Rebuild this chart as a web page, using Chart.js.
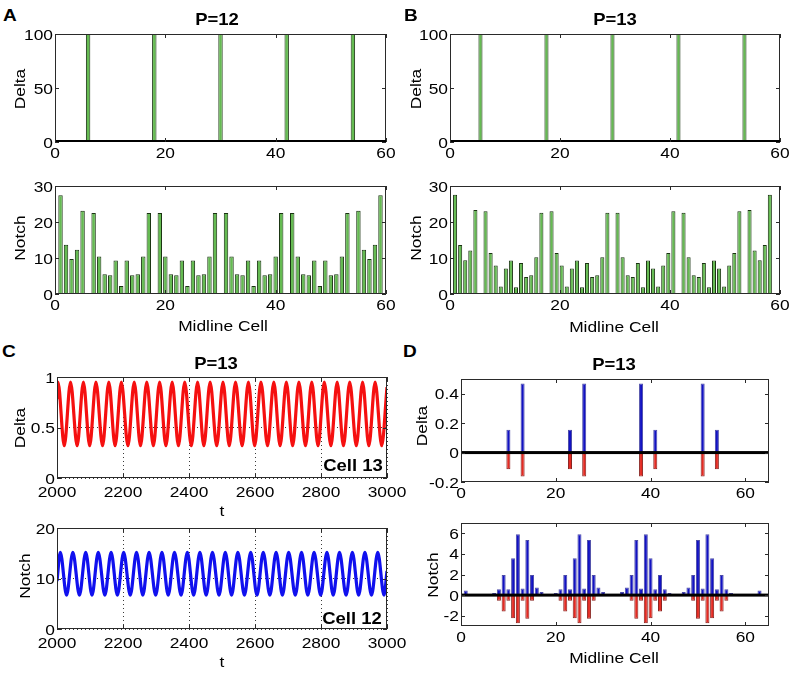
<!DOCTYPE html>
<html><head><meta charset="utf-8">
<script src="https://cdn.jsdelivr.net/npm/chart.js@4.4.1/dist/chart.umd.min.js"></script>
<style>
html,body{margin:0;padding:0;background:#fff;}
#root{position:relative;width:792px;height:673px;overflow:hidden;background:#fff;}
#root canvas{position:absolute;}
.t{position:absolute;font-family:"Liberation Sans",Arial,sans-serif;color:#000;white-space:nowrap;line-height:1;}
</style></head><body><div id="root"></div>
<script>
// ---------------- DATA ----------------
const cellsA = [1,2,3,4,5,6,7,8,9,10,11,12,13,14,15,16,17,18,19,20,21,22,23,24,25,26,27,28,29,30,31,32,33,34,35,36,37,38,39,40,41,42,43,44,45,46,47,48,49,50,51,52,53,54,55,56,57,58,59];
const deltaA = [0,0,0,0,0,100,
  0,0,0,0,0,0,0,0,0,0,0,100,
  0,0,0,0,0,0,0,0,0,0,0,100,
  0,0,0,0,0,0,0,0,0,0,0,100,
  0,0,0,0,0,0,0,0,0,0,0,100,
  0,0,0,0,0];
const notchA = [27.4,13.7,9.7,12.3,23.1,0,
  22.5,10.4,5.5,5.2,9.3,2.2,9.3,5.2,5.5,10.4,22.5,0,
  22.5,10.4,5.5,5.2,9.3,2.2,9.3,5.2,5.5,10.4,22.5,0,
  22.5,10.4,5.5,5.2,9.3,2.2,9.3,5.2,5.5,10.4,22.5,0,
  22.5,10.4,5.5,5.2,9.3,2.2,9.3,5.2,5.5,10.4,22.5,0,
  23.1,12.3,9.7,13.7,27.4];

const cellsB = [1,2,3,4,5,6,7,8,9,10,11,12,13,14,15,16,17,18,19,20,21,22,23,24,25,26,27,28,29,30,31,32,33,34,35,36,37,38,39,40,41,42,43,44,45,46,47,48,49,50,51,52,53,54,55,56,57,58,59,60,61,62,63];
const cellScaleB = 12/13; // 65 cells of period 13 shown on the 0-60 axis
const deltaB = [0,0,0,0,0,100,
  0,0,0,0,0,0,0,0,0,0,0,0,100,
  0,0,0,0,0,0,0,0,0,0,0,0,100,
  0,0,0,0,0,0,0,0,0,0,0,0,100,
  0,0,0,0,0,0,0,0,0,0,0,0,100,
  0,0,0,0,0];
const notchB = [27.6,13.6,9.4,12.1,23.3,0,
  23.0,11.4,7.9,2.1,7.1,9.3,1.9,8.6,4.7,5.2,10.2,22.6,0,
  23.0,11.4,7.9,2.1,7.1,9.3,1.9,8.6,4.7,5.2,10.2,22.6,0,
  22.6,10.2,5.2,4.7,8.6,1.9,9.3,7.1,2.1,7.9,11.4,23.0,0,
  22.6,10.2,5.2,4.7,8.6,1.9,9.3,7.1,2.1,7.9,11.4,23.0,0,
  23.3,12.1,9.4,13.6,27.6];

const tDelta = [2000,2003,2022,2041,2061,2080,2099,2118,2138,2157,2176,2195,2215,2234,2253,2272,2292,2311,2330,2349,2368,2387,2407,2426,2445,2464,2484,2503,2522,2541,2561,2580,2599,2618,2638,2657,2676,2695,2714,2733,2753,2772,2791,2810,2830,2849,2868,2887,2907,2926,2945,2964,2984,3000];
const deltaCell13 = [0.78,
  0.95,0.32,0.95,0.32,0.95,0.32,0.95,0.32,0.95,0.32,0.95,0.32,0.95,0.32,0.95,0.32,0.95,0.32,0.95,0.32,
  0.95,0.32,0.95,0.32,0.95,0.32,0.95,0.32,0.95,0.32,0.95,0.32,0.95,0.32,0.95,0.32,0.95,0.32,0.95,0.32,
  0.95,0.32,0.95,0.32,0.95,0.32,0.95,0.32,0.95,0.32,0.95,0.32,
  0.9];
const tNotch = [2000,2010,2029,2048,2068,2087,2106,2125,2145,2164,2183,2202,2222,2241,2260,2279,2299,2318,2337,2356,2376,2395,2414,2433,2452,2471,2491,2510,2529,2548,2568,2587,2606,2625,2645,2664,2683,2702,2722,2741,2760,2779,2799,2818,2837,2856,2876,2895,2914,2933,2953,2972,2991,3000];
const notchCell12 = [9.5,
  15.2,6.7,15.2,6.7,15.2,6.7,15.2,6.7,15.2,6.7,15.2,6.7,15.2,6.7,15.2,6.7,15.2,6.7,15.2,6.7,
  15.2,6.7,15.2,6.7,15.2,6.7,15.2,6.7,15.2,6.7,15.2,6.7,15.2,6.7,15.2,6.7,15.2,6.7,15.2,6.7,
  15.2,6.7,15.2,6.7,15.2,6.7,15.2,6.7,15.2,6.7,15.2,6.7,
  11.5];

const cellsD = cellsB;
const dDeltaUp = [0,0,0,0,0,0,0,0,0,0.155,
  0,0,0.47,0,0,0,0,0,0,0,
  0,0,0.155,0,0,0.47,0,0,0,0,
  0,0,0,0,0,0,0,0.47,0,0,
  0.155,0,0,0,0,0,0,0,0,0,
  0.47,0,0,0.155,0,0,0,0,0,0,
  0,0,0];
const dDeltaDown = [0,0,0,0,0,0,0,0,0,-0.113,
  0,0,-0.162,0,-0.006,0,0,0,0,0,
  0,0,-0.113,0,0,-0.162,0,-0.006,0,0,
  0,0,0,0,0,-0.006,0,-0.162,0,0,
  -0.113,0,0,0,0,0,0,0,-0.006,0,
  -0.162,0,0,-0.113,0,0,0,0,0,0,
  0,0,0];
const dNotchUp = [0.45,0.1,0,0,0,0,0.2,0.58,1.95,0.58,
  3.57,5.9,0.65,5.35,1.95,0.75,0.3,0,0,0.2,
  0.58,1.95,0.58,3.57,5.9,0.65,5.35,1.95,0.75,0.3,
  0,0,0,0.3,0.75,1.95,5.35,0.65,5.9,3.57,
  0.58,1.95,0.58,0.2,0,0,0.3,0.75,1.95,5.35,
  0.65,5.9,3.57,0.58,1.95,0.58,0.2,0,0,0,
  0,0.1,0.45];
const dNotchDown = [0,0,0,0,0,0,0,-0.55,-1.6,-0.55,
  -2.24,-2.73,-0.55,-2.3,-0.55,0,0,0,0,0,
  -0.55,-1.6,-0.55,-2.24,-2.73,-0.55,-2.3,-0.55,0,0,
  0,0,0,0,0,-0.55,-2.3,-0.55,-2.73,-2.24,
  -0.55,-1.6,-0.55,0,0,0,0,0,-0.55,-2.3,
  -0.55,-2.73,-2.24,-0.55,-1.6,-0.55,0,0,0,0,
  0,0,0];

const ticksCell = [0,20,40,60];
const ticksT = [2000,2200,2400,2600,2800,3000];
const ticksDeltaAB = [0,50,100];
const ticksNotchAB = [0,10,20,30];
const ticksDeltaC = [0,0.5,1];
const ticksNotchC = [0,10,20];
const ticksDeltaD = [-0.2,0,0.2,0.4];
const ticksNotchD = [-2,0,2,4,6];

// ---------------- STYLE / HELPERS ----------------
const SX = 1.12;
const TICK_FONT = '15.5px "Liberation Sans", Arial, sans-serif';
const GREEN = '#65bb52', GREEN_EDGE = '#1a3312';
const root = document.getElementById('root');

function fmt(v){ return String(Math.round(v*1000)/1000); }
function txt(ctx,s,x,y,align){ ctx.save(); ctx.translate(x,y); ctx.scale(SX,1); ctx.textAlign=align; ctx.fillText(s,0,0); ctx.restore(); }

const matlabAxes = {
  id:'matlabAxes',
  afterDatasetsDraw(chart, args, o){
    const ctx = chart.ctx, a = chart.chartArea, xs = chart.scales.x, ys = chart.scales.y;
    ctx.save();
    if (o.zeroLine){
      const y0 = ys.getPixelForValue(0);
      ctx.fillStyle = '#000';
      ctx.fillRect(a.left, y0-1.5, a.right-a.left, 3);
    }
    ctx.strokeStyle = '#2a2a2a'; ctx.lineWidth = 1;
    ctx.strokeRect(Math.round(a.left)+0.5, Math.round(a.top)+0.5, Math.round(a.right-a.left)-1, Math.round(a.bottom-a.top)-1);
    if (o.baseLine){
      ctx.fillStyle = '#000';
      ctx.fillRect(a.left, a.bottom-2, a.right-a.left, 2);
    }
    ctx.beginPath();
    const L = 4;
    xs.ticks.forEach(t=>{ const x=Math.round(xs.getPixelForValue(t.value))+0.5; ctx.moveTo(x,a.bottom); ctx.lineTo(x,a.bottom-L); ctx.moveTo(x,a.top); ctx.lineTo(x,a.top+L); });
    ys.ticks.forEach(t=>{ const y=Math.round(ys.getPixelForValue(t.value))+0.5; ctx.moveTo(a.left,y); ctx.lineTo(a.left+L,y); ctx.moveTo(a.right,y); ctx.lineTo(a.right-L,y); });
    ctx.stroke();
    ctx.fillStyle = '#000'; ctx.font = TICK_FONT; ctx.textBaseline = 'alphabetic';
    xs.ticks.forEach(t=>{ txt(ctx, fmt(t.value), xs.getPixelForValue(t.value), a.bottom + o.xLab, 'center'); });
    ys.ticks.forEach(t=>{ txt(ctx, fmt(t.value), a.left - 2, ys.getPixelForValue(t.value) + 5.5, 'right'); });
    ctx.restore();
  }
};

const PL=60, PT=8, PR=30, PB=26;
function makeChart(box, type, datasets, xs, ys, po){
  const c = document.createElement('canvas');
  const W = (box.r-box.l)+PL+PR, H = (box.b-box.t)+PT+PB;
  c.width = W; c.height = H;
  c.style.left = (box.l-PL)+'px'; c.style.top = (box.t-PT)+'px';
  c.style.width = W+'px'; c.style.height = H+'px';
  root.appendChild(c);
  const axis = (s) => ({
    type:'linear', min:s.min, max:s.max, display:true, offset:false, grace:0,
    ticks:{display:false},
    grid:{display:!!s.grid, drawTicks:false, offset:false, color:'#3a3a3a', lineWidth:1},
    border:{display:false, dash:[1,3]},
    afterBuildTicks: sc => { sc.ticks = s.ticks.map(v=>({value:v})); }
  });
  return new Chart(c, {
    type,
    data:{datasets},
    options:{
      responsive:false, animation:false, devicePixelRatio:1,
      layout:{padding:{left:PL, top:PT, right:PR, bottom:PB}},
      plugins:{legend:{display:false}, tooltip:{enabled:false}, matlabAxes:po},
      scales:{x:axis(xs), y:axis(ys)}
    },
    plugins:[matlabAxes]
  });
}
function pts(xArr, yArr, k){ return xArr.map((x,i)=>({x:x*(k||1), y:yArr[i]})); }
function greenBars(data){ return {data, backgroundColor:GREEN, borderColor:GREEN_EDGE, borderWidth:1, borderSkipped:false, barPercentage:0.8, categoryPercentage:1}; }
// positive (blue) and negative (red) parts share one bar slot per cell
function dBars(data, up){ return {data, stack:'diff', backgroundColor: up?'#1212c2':'#e42a22', borderColor: up?'#4c4ca8':'#8a2420', borderWidth:1, borderSkipped:false, barPercentage:0.85, categoryPercentage:1}; }

// ---------------- CHARTS ----------------
// A
makeChart({l:55,t:34,r:386,b:142}, 'bar', [greenBars(pts(cellsA, deltaA))],
  {min:0,max:60,ticks:ticksCell}, {min:0,max:100,ticks:ticksDeltaAB}, {xLab:16, baseLine:true});
makeChart({l:55,t:186,r:386,b:294}, 'bar', [greenBars(pts(cellsA, notchA))],
  {min:0,max:60,ticks:ticksCell}, {min:0,max:30,ticks:ticksNotchAB}, {xLab:16});
// B
makeChart({l:450,t:34,r:780,b:142}, 'bar', [greenBars(pts(cellsB, deltaB, cellScaleB))],
  {min:0,max:60,ticks:ticksCell}, {min:0,max:100,ticks:ticksDeltaAB}, {xLab:16, baseLine:true});
makeChart({l:450,t:186,r:780,b:294}, 'bar', [greenBars(pts(cellsB, notchB, cellScaleB))],
  {min:0,max:60,ticks:ticksCell}, {min:0,max:30,ticks:ticksNotchAB}, {xLab:16});
// C
makeChart({l:57,t:377,r:387,b:478}, 'line', [{data:pts(tDelta, deltaCell13), borderColor:'#f51010', borderWidth:3.2, pointRadius:0, cubicInterpolationMode:'monotone', fill:false}],
  {min:2000,max:3000,ticks:ticksT,grid:true}, {min:0,max:1,ticks:ticksDeltaC,grid:true}, {xLab:19});
makeChart({l:57,t:528,r:387,b:629}, 'line', [{data:pts(tNotch, notchCell12), borderColor:'#1010ee', borderWidth:3.2, pointRadius:0, cubicInterpolationMode:'monotone', fill:false}],
  {min:2000,max:3000,ticks:ticksT,grid:true}, {min:0,max:20,ticks:ticksNotchC,grid:true}, {xLab:19});
// D
makeChart({l:461,t:379,r:769,b:482}, 'bar', [dBars(pts(cellsD, dDeltaUp), true), dBars(pts(cellsD, dDeltaDown), false)],
  {min:0,max:65,ticks:ticksCell}, {min:-0.2,max:0.5,ticks:ticksDeltaD}, {xLab:16, zeroLine:true});
makeChart({l:461,t:523,r:769,b:626}, 'bar', [dBars(pts(cellsD, dNotchUp), true), dBars(pts(cellsD, dNotchDown), false)],
  {min:0,max:65,ticks:ticksCell}, {min:-3,max:7,ticks:ticksNotchD}, {xLab:16, zeroLine:true});

// ---------------- TEXT ----------------
function addText(s, cx, cy, o){
  o = o||{};
  const d = document.createElement('div'); d.className='t'; d.textContent = s;
  d.style.left = cx+'px'; d.style.top = cy+'px';
  d.style.fontSize = (o.size||15.5)+'px';
  if (o.bold) d.style.fontWeight = 'bold';
  d.style.transform = 'translate(-50%,-50%)' + (o.rot?' rotate(-90deg)':'') + ' scaleX('+SX+')';
  root.appendChild(d);
}
// panel letters
addText('A', 10, 15, {bold:true, size:17});
addText('B', 411, 15, {bold:true, size:17});
addText('C', 9, 351, {bold:true, size:17});
addText('D', 410, 351, {bold:true, size:17});
// titles
addText('P=12', 217, 19, {bold:true, size:16.5});
addText('P=13', 615, 19, {bold:true, size:16.5});
addText('P=13', 216, 363, {bold:true, size:16.5});
addText('P=13', 614, 364, {bold:true, size:16.5});
// axis titles
addText('Delta', 19.5, 89, {rot:true});
addText('Notch', 19.5, 238, {rot:true});
addText('Midline Cell', 223, 326);
addText('Delta', 415.5, 89, {rot:true});
addText('Notch', 415.5, 238, {rot:true});
addText('Midline Cell', 614, 327);
addText('Delta', 19.5, 428, {rot:true});
addText('t', 222, 511);
addText('Notch', 25, 576, {rot:true});
addText('t', 222, 662);
addText('Delta', 421.5, 426, {rot:true});
addText('Notch', 432.5, 575, {rot:true});
addText('Midline Cell', 614, 658);
// in-plot labels
addText('Cell 13', 353, 465, {bold:true, size:16.5});
addText('Cell 12', 352, 618, {bold:true, size:16.5});
</script></body></html>
